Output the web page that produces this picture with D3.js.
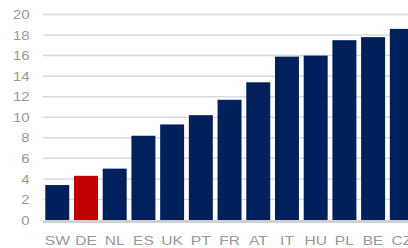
<!DOCTYPE html>
<html lang="en">
  <head>
    <meta charset="UTF-8" />
    <title>Bar chart</title>
    <script src="https://d3js.org/d3.v7.min.js"></script>
    <style>
      body {
        margin: 0;
        font-family: "Liberation Sans", Arial, sans-serif;
        background: #fff;
      }
      .axis text {
        fill: #999999;
        font-size: 13px;
      }
    </style>
  </head>
  <body>
    <svg width="408" height="248"></svg>
    <script>
      const countries = ["SW", "DE", "NL", "ES", "UK", "PT", "FR", "AT", "IT", "HU", "PL", "BE", "CZ"];
      const values = [3.4, 4.3, 5.0, 8.2, 9.3, 10.2, 11.7, 13.4, 15.9, 16.0, 17.5, 17.8, 18.6];
      const highlight = ["DE"];
      const yTicks = [0, 2, 4, 6, 8, 10, 12, 14, 16, 18, 20];

      const svg = d3.select("svg");
      const left = 43;
      const x = d3
        .scaleBand()
        .domain(countries)
        .range([left, left + 28.7 * countries.length])
        .paddingInner(0.165)
        .paddingOuter(0.08);
      const y = d3.scaleLinear().domain([0, 20]).range([220, 14.5]);

      // gridlines
      svg
        .append("g")
        .selectAll("line")
        .data(yTicks.slice(1))
        .enter()
        .append("line")
        .attr("x1", left)
        .attr("x2", 408)
        .attr("y1", (d) => y(d))
        .attr("y2", (d) => y(d))
        .attr("stroke", "#dadada")
        .attr("stroke-width", 1.5);

      // y tick labels (glyphs in the source are a bit wide, so stretch them)
      svg
        .append("g")
        .attr("class", "axis")
        .selectAll("text")
        .data(yTicks)
        .enter()
        .append("text")
        .attr("transform", (d) => `translate(29.5,${y(d)}) scale(1.15,1)`)
        .attr("dy", "0.36em")
        .attr("text-anchor", "end")
        .text((d) => d);

      svg
        .selectAll("rect.bar")
        .data(values)
        .enter()
        .append("rect")
        .attr("class", "bar")
        .attr("x", (d, i) => x(countries[i]))
        .attr("width", x.bandwidth())
        .attr("y", (d) => y(d))
        .attr("height", (d) => y(0) - y(d))
        .attr("fill", (d, i) => (highlight.includes(countries[i]) ? "#c00000" : "#00205b"));

      // baseline
      svg
        .append("line")
        .attr("x1", left)
        .attr("x2", 408)
        .attr("y1", y(0) + 1.5)
        .attr("y2", y(0) + 1.5)
        .attr("stroke", "#d0d0d0")
        .attr("stroke-width", 3);

      // x labels
      svg
        .append("g")
        .attr("class", "axis")
        .selectAll("text")
        .data(countries)
        .enter()
        .append("text")
        .attr("transform", (d) => `translate(${x(d) + x.bandwidth() / 2},240) scale(1.2,1)`)
        .attr("dy", "0.36em")
        .attr("text-anchor", "middle")
        .text((d) => d);
    </script>
  </body>
</html>
